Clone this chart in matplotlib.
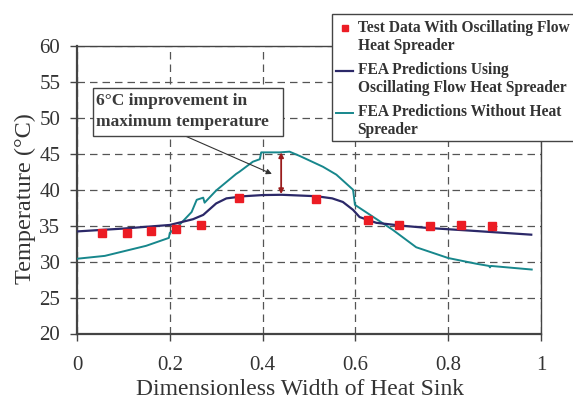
import matplotlib
matplotlib.use("Agg")
import matplotlib.pyplot as plt
from matplotlib.patches import Rectangle
from matplotlib.lines import Line2D

plt.rcParams['font.family'] = ['Liberation Serif', 'DejaVu Serif']

# Test data with oscillating flow heat spreader
test_x = [0.053, 0.107, 0.160, 0.213, 0.267, 0.350, 0.516, 0.628, 0.695, 0.761, 0.828, 0.894]
test_y = [34.0, 34.0, 34.2, 34.5, 35.1, 38.9, 38.7, 35.8, 35.15, 34.95, 35.05, 34.9]

# FEA predictions using oscillating flow heat spreader
fea_x = [0.0, 0.1, 0.2, 0.25, 0.272, 0.300, 0.322, 0.36, 0.4, 0.441, 0.516, 0.55, 0.573, 0.595, 0.609, 0.645, 0.70, 0.753, 0.85, 0.979]
fea_y = [34.2, 34.6, 35.1, 35.9, 36.5, 38.1, 38.8, 39.1, 39.26, 39.3, 39.1, 38.8, 38.3, 37.2, 36.2, 35.4, 35.0, 34.7, 34.3, 33.75]

# FEA predictions without heat spreader
nohs_x = [0.0, 0.060, 0.149, 0.198, 0.200, 0.219, 0.247, 0.258, 0.272, 0.275, 0.300, 0.343, 0.350, 0.379, 0.394, 0.397,
          0.437, 0.458, 0.480, 0.530, 0.559, 0.595, 0.599, 0.681, 0.731, 0.800, 0.861, 0.888, 0.890, 0.892, 0.980]
nohs_y = [30.4, 30.8, 32.2, 33.3, 34.0, 35.0, 36.9, 38.6, 38.9, 38.2, 39.9, 42.2, 42.5, 43.9, 44.25, 45.2,
          45.2, 45.3, 44.7, 43.2, 42.1, 40.0, 37.9, 34.4, 32.0, 30.5, 29.7, 29.4, 29.2, 29.4, 28.9]

# Improvement arrow (value range)
imp_x = 0.44
imp_top = 45.2
imp_bot = 39.4

xticks = [0, 0.2, 0.4, 0.6, 0.8, 1]
xticklabels = ['0', '0.2', '0.4', '0.6', '0.8', '1']
yticks = [20, 25, 30, 35, 40, 45, 50, 55, 60]

W, H = 573, 400
fig = plt.figure(figsize=(W / 100, H / 100), dpi=100)
ax = fig.add_axes([77 / W, 1 - 333.5 / H, (541 - 77) / W, (333.5 - 46) / H])


def fx(px):
    return px / W


def fy(py):
    return 1 - py / H


grey = '#444444'
ax.plot(nohs_x, nohs_y, color='#17878c', lw=1.4, zorder=3)
ax.plot(fea_x, fea_y, color='#2b2868', lw=1.6, zorder=4)
ax.plot(test_x, test_y, ls='none', marker='s', ms=5.3, color='#ec1c24', mec='#ec1c24', zorder=5)

ax.set_xlim(0, 1)
ax.set_ylim(20, 60)
ax.set_xticks(xticks)
ax.set_xticklabels(xticklabels)
ax.set_yticks(yticks)
ax.grid(True, ls=(0, (6, 4)), color='#555555', lw=0.9)
ax.set_axisbelow(True)
for s in ax.spines.values():
    s.set_color(grey)
    s.set_linewidth(1.0)
ax.spines['left'].set_linewidth(1.6)
ax.spines['bottom'].set_linewidth(1.6)
ax.tick_params(axis='both', direction='out', length=5, width=1, color=grey,
               labelsize=15, labelcolor='#333333')
ax.tick_params(axis='x', pad=11)
ax.tick_params(axis='y', pad=7)
ax.set_xlabel('Dimensionless Width of Heat Sink', fontsize=17, color='#333333', va='top')
ax.set_ylabel('Temperature (°C)', fontsize=17.5, color='#333333')
ax.xaxis.set_label_coords(0.48, -0.158)
ax.yaxis.set_label_coords(-0.089, 0.468)

# improvement double arrow
ax.annotate('', xy=(imp_x, imp_top), xytext=(imp_x, imp_bot),
            arrowprops=dict(arrowstyle='<|-|>', color='#9a1c1c', lw=1.3,
                            mutation_scale=7, shrinkA=0, shrinkB=0), zorder=6)

# annotation box, text and pointer
fig.patches.append(Rectangle((fx(92.7), fy(136)), fx(283.3 - 92.7), (136 - 88.3) / H,
                             transform=fig.transFigure, fc='white', ec='#444444', lw=1.0, zorder=8))
fig.text(fx(96), fy(100.7), '6°C improvement in', ha='left', va='center', fontsize=12.5,
         fontweight='bold', color='#3a3a3a', zorder=9)
fig.text(fx(96), fy(122), 'maximum temperature', ha='left', va='center', fontsize=12.5,
         fontweight='bold', color='#3a3a3a', zorder=9)
ax.annotate('', xy=(0.42, 42.2), xytext=(0.236, 47.4),
            arrowprops=dict(arrowstyle='-|>', color='#333333', lw=0.8,
                            mutation_scale=8, shrinkA=0, shrinkB=0), zorder=7)

# legend (manual, figure pixel coordinates)
fig.patches.append(Rectangle((fx(331.5), fy(141)), fx(600 - 331.5), (141 - 14) / H,
                             transform=fig.transFigure, fc='white', ec='#444444', lw=1.0, zorder=10))
fig.lines.append(Line2D([fx(344.5)], [fy(27.5)], transform=fig.transFigure, marker='s', ms=5,
                        color='#ec1c24', ls='none', zorder=11))
fig.lines.append(Line2D([fx(336), fx(353)], [fy(70.5), fy(70.5)], transform=fig.transFigure,
                        color='#2b2868', lw=1.6, zorder=11))
fig.lines.append(Line2D([fx(336), fx(353)], [fy(112.5), fy(112.5)], transform=fig.transFigure,
                        color='#17878c', lw=1.4, zorder=11))
leg_texts = [('Test Data With Oscillating Flow\nHeat Spreader', 27.5),
             ('FEA Predictions Using\nOscillating Flow Heat Spreader', 70.5),
             ('FEA Predictions Without Heat\nSpreader', 112.5)]
for t, py in leg_texts:
    for i, ln in enumerate(t.split('\n')):
        fig.text(fx(357.5), fy(py + i * 18), ln, ha='left', va='center', fontsize=11.2,
                 fontweight='bold', color='#333333', zorder=12)

fig.savefig('out.png', dpi=100)
